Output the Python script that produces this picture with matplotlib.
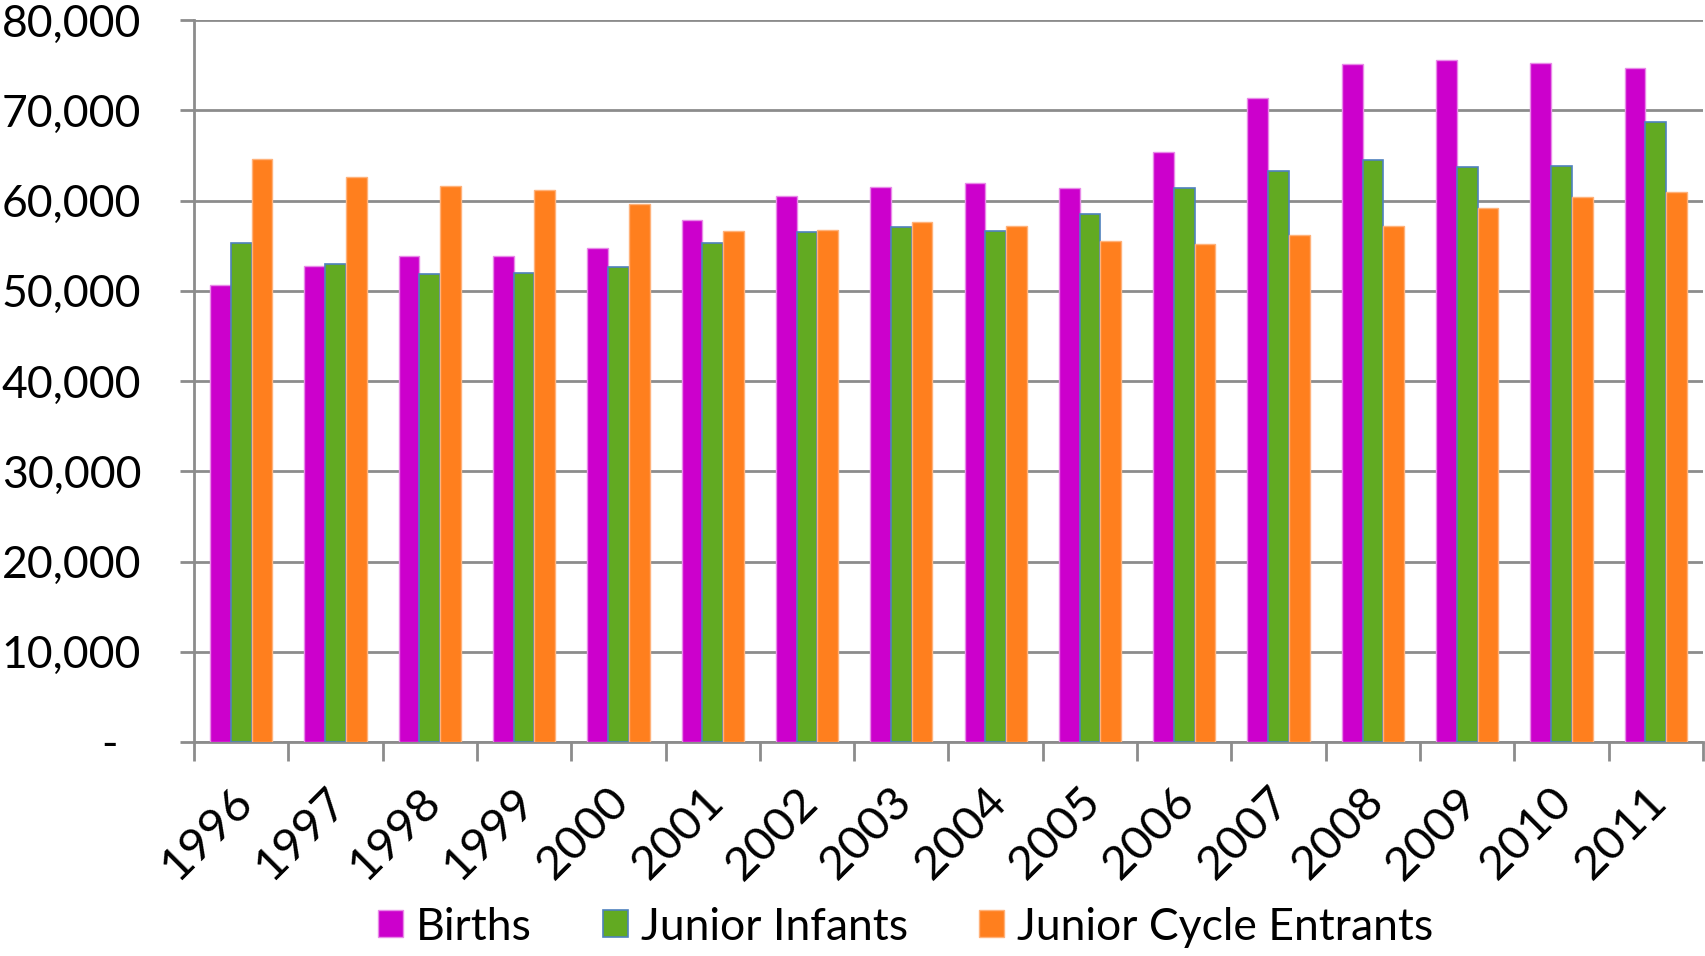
import matplotlib
matplotlib.use("Agg")
import matplotlib.pyplot as plt
import matplotlib.transforms as mtransforms
from matplotlib.ticker import FuncFormatter, FixedLocator
import numpy as np

years = ["1996", "1997", "1998", "1999", "2000", "2001", "2002", "2003",
         "2004", "2005", "2006", "2007", "2008", "2009", "2010", "2011"]
births = [50630, 52700, 53890, 53820, 54740, 57850, 60480, 61520,
          61960, 61330, 65410, 71370, 75070, 75560, 75190, 74630]
junior_infants = [55300, 52930, 51850, 51930, 52670, 55260, 56560, 57040,
                  56590, 58480, 61440, 63260, 64480, 63700, 63810, 68740]
junior_cycle = [64590, 62590, 61630, 61185, 59630, 56630, 56780, 57670,
                57190, 55560, 55190, 56190, 57190, 59190, 60410, 60890]
series_names = ["Births", "Junior Infants", "Junior Cycle Entrants"]

plt.rcParams['font.family'] = ['Lato', 'DejaVu Sans']

fig = plt.figure(figsize=(17.06, 9.56), dpi=100)
ax = fig.add_axes([194/1706, 1 - 742/956, (1703-194)/1706, (742-20)/956])

x = np.arange(len(years))
w = 0.22
ax.bar(x - w, births, width=w, color='#CC00CC', edgecolor='#E88AE8', linewidth=1, label=series_names[0], zorder=3)
ax.bar(x, junior_infants, width=w, color='#62AA22', edgecolor='#4F81BD', linewidth=1.2, label=series_names[1], zorder=3)
ax.bar(x + w, junior_cycle, width=w, color='#FF7F1E', edgecolor='#FFB27A', linewidth=1, label=series_names[2], zorder=3)

ax.set_xlim(-0.5, len(years) - 0.5)
ax.set_ylim(0, 80000)
ax.set_yticks(np.arange(0, 80001, 10000))

def fmt(v, pos):
    if v == 0:
        return "-  "
    return f"{int(v):,}"
ax.yaxis.set_major_formatter(FuncFormatter(fmt))
ax.yaxis.grid(True, color='#8C8C8C', linewidth=2, zorder=0)
ax.set_axisbelow(True)

for s in ['top', 'right']:
    ax.spines[s].set_visible(False)
for s in ['left', 'bottom']:
    ax.spines[s].set_color('#8C8C8C')
    ax.spines[s].set_linewidth(2)

ax.tick_params(axis='y', length=10, width=2, color='#8C8C8C', labelsize=32, pad=28)

ax.set_xticks(x)
ax.set_xticklabels(years, rotation=45, ha='right', va='center', rotation_mode='anchor', fontsize=34)
ax.tick_params(axis='x', which='major', length=0, pad=38)
ax.xaxis.set_minor_locator(FixedLocator(np.arange(-0.5, len(years), 1.0)))
ax.tick_params(axis='x', which='minor', length=14, width=2, color='#8C8C8C')
offset = mtransforms.ScaledTranslation(4/100, 0, fig.dpi_scale_trans)
for lbl in ax.get_xticklabels():
    lbl.set_transform(lbl.get_transform() + offset)

fig.legend(loc='lower center', bbox_to_anchor=(0.531, -0.033), ncol=3, frameon=False,
           fontsize=32, handlelength=0.55, handleheight=0.55, handletextpad=0.3,
           columnspacing=1.6)

fig.savefig("out.png", dpi=100)
